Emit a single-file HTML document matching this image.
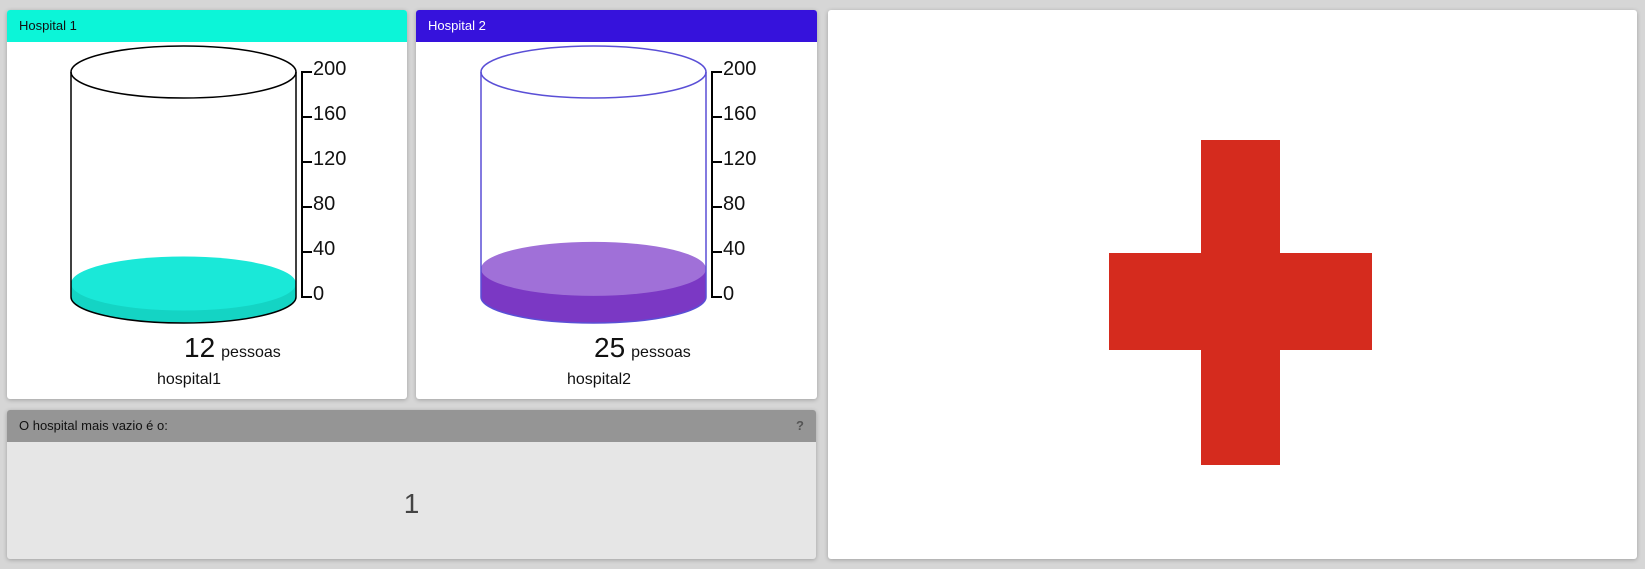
<!DOCTYPE html>
<html><head><meta charset="utf-8"><style>
body{margin:0;width:1645px;height:569px;background:#d6d6d6;font-family:"Liberation Sans",sans-serif;position:relative;overflow:hidden}
.card{position:absolute;background:#fff;border-radius:3px;box-shadow:0 1px 4px rgba(0,0,0,.25);overflow:hidden}
.hdr{height:32px;line-height:32px;padding-left:12px;font-size:13px}
svg{position:absolute;left:0;top:0}
</style></head><body>
<div class="card" style="left:7px;top:10px;width:400px;height:389px">
 <div class="hdr" style="background:#0cf5d8;color:#111">Hospital 1</div>
</div>
<div class="card" style="left:416px;top:10px;width:401px;height:389px">
 <div class="hdr" style="background:#3612dc;color:#fff">Hospital 2</div>
</div>
<div class="card" style="left:7px;top:410px;width:809px;height:149px;background:#e6e6e6">
 <div class="hdr" style="background:#959595;color:#111;height:32px">O hospital mais vazio é o:<span style="position:absolute;right:12px;color:#555;font-weight:bold">?</span></div>
 <div style="position:absolute;left:0;width:809px;top:78px;text-align:center;font-size:28px;color:#444">1</div>
</div>
<div class="card" style="left:828px;top:10px;width:809px;height:549px">
 <div style="position:absolute;left:373px;top:130px;width:79px;height:325px;background:#d52b1e"></div>
 <div style="position:absolute;left:281px;top:243px;width:263px;height:97px;background:#d52b1e"></div>
</div>
<svg id="g" width="1645" height="569"></svg>
<script>
const names=["hospital1","hospital2"];
const values=[12,25];
const ticks=[0,40,80,120,160,200];
const maxV=200;
const offsets=[0,410];
const styles=[{stroke:"#000",top:"#1ae8d8",side:"#14d4c4"},{stroke:"#5a4fd6",top:"#a070d8",side:"#7b38c4"}];
const NS="http://www.w3.org/2000/svg",svg=document.getElementById('g');
function mk(t,a,p){const e=document.createElementNS(NS,t);for(const k in a)e.setAttribute(k,a[k]);(p||svg).appendChild(e);return e;}
const yTop=72,yBot=297,rx=112.5,ry=26;
function y(v){return yBot-(v/maxV)*(yBot-yTop);}
values.forEach((v,i)=>{
 const ox=offsets[i],cx=183.5+ox,s=styles[i];
 const g=mk('g',{});
 
 
 const ly=y(v);
 const side=mk('path',{d:`M${cx-rx},${ly} L${cx-rx},${yBot} A${rx},${ry} 0 0 0 ${cx+rx},${yBot} L${cx+rx},${ly} Z`,fill:s.side},g);
 
 
 const top=mk('ellipse',{cx:cx,cy:ly,rx:rx,ry:ry+1,fill:s.top},g);
 
 
 mk('ellipse',{cx:cx,cy:yTop,rx:rx,ry:ry,fill:"none",stroke:s.stroke,"stroke-width":1.5},g);
 mk('path',{d:`M${cx-rx},${yTop} L${cx-rx},${yBot} A${rx},${ry} 0 0 0 ${cx+rx},${yBot} L${cx+rx},${yTop}`,fill:"none",stroke:s.stroke,"stroke-width":1.5},g);
 const ax=302+ox;
 mk('line',{x1:ax,y1:yTop,x2:ax,y2:yBot,stroke:"#000","stroke-width":2},g);
 ticks.forEach(t=>{
  mk('line',{x1:ax-1,y1:y(t),x2:ax+10,y2:y(t),stroke:"#000","stroke-width":2},g);
  const tx=mk('text',{x:ax+11,y:y(t)+3,"font-size":20,fill:"#111"},g);
  tx.textContent=t;
  
  
 });
 const vt=mk('text',{x:184+ox,y:357,"font-size":28,fill:"#111"},g);
 vt.innerHTML=v+'<tspan font-size="16" dx="6">pessoas</tspan>';
 
 
 const nt=mk('text',{x:157+ox,y:384,"font-size":16,fill:"#111"},g);
 nt.textContent=names[i];
 
 
});
</script>
</body></html>
